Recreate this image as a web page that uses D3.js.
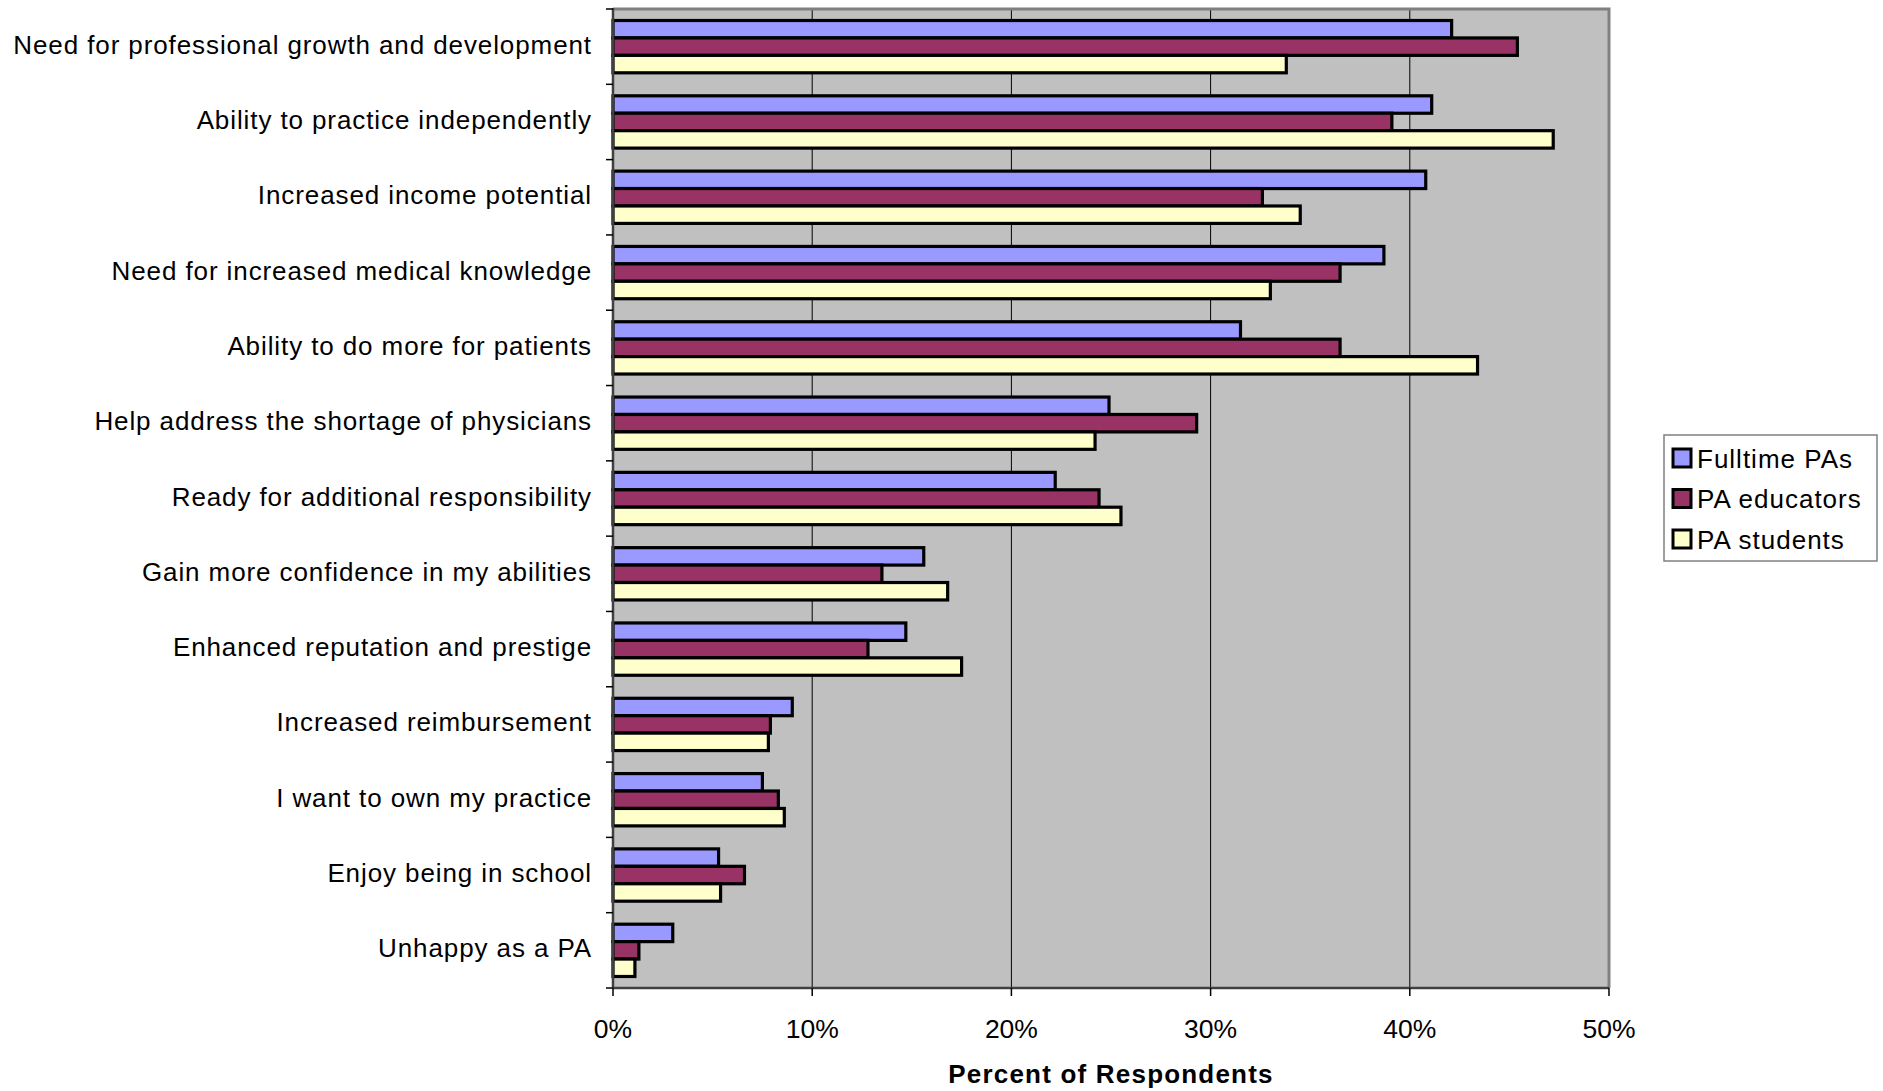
<!DOCTYPE html>
<html>
<head>
<meta charset="utf-8">
<script src="https://cdn.jsdelivr.net/npm/d3@7"></script>
<style>
html,body{margin:0;padding:0;background:#fff;}
svg{display:block;font-family:"Liberation Sans",Arial,sans-serif;}
</style>
</head>
<body>
<svg id="chart" width="1883" height="1091"></svg>
<script>
const categories = [
  "Need for professional growth and development",
  "Ability to practice independently",
  "Increased income potential",
  "Need for increased medical knowledge",
  "Ability to do more for patients",
  "Help address the shortage of physicians",
  "Ready for additional responsibility",
  "Gain more confidence in my abilities",
  "Enhanced reputation and prestige",
  "Increased reimbursement",
  "I want to own my practice",
  "Enjoy being in school",
  "Unhappy as a PA"
];
const seriesNames = ["Fulltime PAs", "PA educators", "PA students"];
const fulltimePAs = [42.1, 41.1, 40.8, 38.7, 31.5, 24.9, 22.2, 15.6, 14.7, 9.0, 7.5, 5.3, 3.0];
const paEducators = [45.4, 39.1, 32.6, 36.5, 36.5, 29.3, 24.4, 13.5, 12.8, 7.9, 8.3, 6.6, 1.3];
const paStudents  = [33.8, 47.2, 34.5, 33.0, 43.4, 24.2, 25.5, 16.8, 17.5, 7.8, 8.6, 5.4, 1.1];
const xTicks = [0, 10, 20, 30, 40, 50];
const colors = ["#9999FF", "#993366", "#FFFFCC"];
const xTitle = "Percent of Respondents";

const seriesValues = [fulltimePAs, paEducators, paStudents];
const svg = d3.select("#chart");

const pLeft = 613, pRight = 1609, pTop = 9, pBottom = 988;

const x = d3.scaleLinear().domain([0, 50]).range([pLeft, pRight]);
const y = d3.scaleBand().domain(categories).range([pTop, pBottom]).padding(0);
const ys = d3.scaleBand().domain(seriesNames).range([0, y.bandwidth()]).paddingInner(0).paddingOuter(0.66);

// plot background
svg.append("rect").attr("x", pLeft).attr("y", pTop).attr("width", pRight - pLeft).attr("height", pBottom - pTop)
  .attr("fill", "#C0C0C0");

// gridlines
svg.append("g").selectAll("line").data(xTicks.filter(t => t > 0 && t < 50)).join("line")
  .attr("x1", d => x(d)).attr("x2", d => x(d)).attr("y1", pTop).attr("y2", pBottom)
  .attr("stroke", "#000").attr("stroke-width", 1);

// plot border (top & right gray)
svg.append("path").attr("d", `M${pLeft},${pTop}H${pRight}V${pBottom}`)
  .attr("fill", "none").attr("stroke", "#808080").attr("stroke-width", 3);

// bars
const rows = [];
categories.forEach((c, i) => seriesNames.forEach((s, j) => rows.push({c, s, j, v: seriesValues[j][i]})));
svg.append("g").selectAll("rect").data(rows).join("rect")
  .attr("x", x(0))
  .attr("y", d => y(d.c) + ys(d.s))
  .attr("width", d => x(d.v) - x(0))
  .attr("height", ys.bandwidth())
  .attr("fill", d => colors[d.j])
  .attr("stroke", "#000").attr("stroke-width", 3.2);

// left axis
const yAxisG = svg.append("g");
yAxisG.append("line").attr("x1", pLeft).attr("x2", pLeft).attr("y1", pTop - 1).attr("y2", pBottom)
  .attr("stroke", "#404040").attr("stroke-width", 2.5);
const boundaries = d3.range(categories.length + 1).map(i => pTop + i * y.step());
yAxisG.selectAll("line.tk").data(boundaries).join("line").attr("class", "tk")
  .attr("x1", pLeft - 7).attr("x2", pLeft).attr("y1", d => d).attr("y2", d => d)
  .attr("stroke", "#000").attr("stroke-width", 1.5);
yAxisG.selectAll("text").data(categories).join("text")
  .attr("x", 592).attr("y", d => y(d) + y.bandwidth() / 2 + 7)
  .attr("text-anchor", "end").attr("font-size", 26).attr("letter-spacing", 0.9)
  .attr("fill", "#000").text(d => d);

// bottom axis
const xAxisG = svg.append("g");
xAxisG.append("line").attr("x1", pLeft).attr("x2", pRight).attr("y1", pBottom).attr("y2", pBottom)
  .attr("stroke", "#404040").attr("stroke-width", 2.5);
xAxisG.selectAll("line.tk").data(xTicks).join("line").attr("class", "tk")
  .attr("x1", d => x(d)).attr("x2", d => x(d)).attr("y1", pBottom).attr("y2", pBottom + 8)
  .attr("stroke", "#000").attr("stroke-width", 1.5);
xAxisG.selectAll("text").data(xTicks).join("text")
  .attr("x", d => x(d)).attr("y", 1038)
  .attr("text-anchor", "middle").attr("font-size", 26.5)
  .attr("fill", "#000").text(d => d + "%");

svg.append("text").attr("x", (pLeft + pRight) / 2).attr("y", 1083)
  .attr("text-anchor", "middle").attr("font-size", 26).attr("font-weight", "bold").attr("letter-spacing", 1.2)
  .text(xTitle);

// legend
const lg = svg.append("g");
lg.append("rect").attr("x", 1664).attr("y", 435).attr("width", 213).attr("height", 126)
  .attr("fill", "#fff").attr("stroke", "#808080").attr("stroke-width", 1.5);
const ly = d3.scalePoint().domain(seriesNames).range([458, 539]);
lg.selectAll("rect.sw").data(seriesNames).join("rect").attr("class", "sw")
  .attr("x", 1673).attr("y", d => ly(d) - 9).attr("width", 18).attr("height", 18)
  .attr("fill", (d, i) => colors[i]).attr("stroke", "#000").attr("stroke-width", 3);
lg.selectAll("text").data(seriesNames).join("text")
  .attr("x", 1697).attr("y", d => ly(d) + 9.5)
  .attr("font-size", 26).attr("letter-spacing", 1)
  .text(d => d);
</script>
</body>
</html>
